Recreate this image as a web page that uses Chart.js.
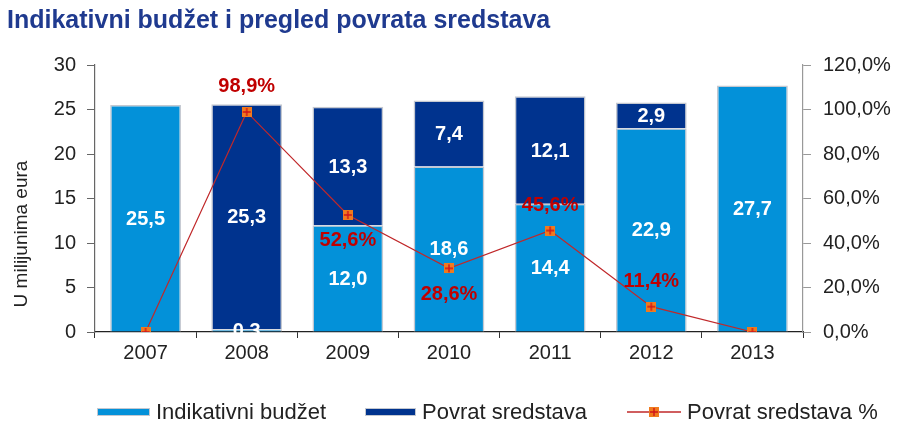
<!DOCTYPE html>
<html>
<head>
<meta charset="utf-8">
<script src="https://cdn.jsdelivr.net/npm/chart.js@4"></script>
<style>
  html, body { margin: 0; padding: 0; background: #fff; }
  #wrap { position: relative; width: 900px; height: 421px; }
</style>
</head>
<body>
<div id="wrap"><canvas id="c" width="900" height="421"></canvas></div>
<script>
// ---- data ----
const categories = ['2007', '2008', '2009', '2010', '2011', '2012', '2013'];
const indikativniBudzet = [25.5, 0.3, 12.0, 18.6, 14.4, 22.9, 27.7];
const povratSredstava = [0, 25.3, 13.3, 7.4, 12.1, 2.9, 0];
const povratPercent = [0, 98.9, 52.6, 28.6, 45.6, 11.4, 0];
const leftTicks = [0, 5, 10, 15, 20, 25, 30];
const rightTicks = [0, 20, 40, 60, 80, 100, 120];

const titleText = 'Indikativni budžet i pregled povrata sredstava';
const yTitleText = 'U milijunima eura';
const seriesNames = ['Indikativni budžet', 'Povrat sredstava', 'Povrat sredstava %'];

// ---- styles ----
const FONT = '"Liberation Sans", Arial, sans-serif';
const C_LIGHT = '#0391D9';
const C_DARK = '#00338E';
const C_LINE = '#C0282A';
const C_MARK = '#F07A1E';
const C_BORDER = '#C4C8D0';
const pctLabelAbove = [true, true, false, false, true, true, true];

function fmt(v) { return v.toFixed(1).replace('.', ','); }

// marker image
const marker = document.createElement('canvas');
marker.width = 10; marker.height = 10;
(function () {
  const m = marker.getContext('2d');
  m.fillStyle = C_MARK;
  m.fillRect(0, 0, 10, 10);
  m.strokeStyle = '#D0141A';
  m.lineWidth = 1.4;
  m.beginPath();
  m.moveTo(5, 1); m.lineTo(5, 9);
  m.moveTo(1, 5); m.lineTo(9, 5);
  m.stroke();
})();

const decorPlugin = {
  id: 'decor',
  afterDatasetsDraw(chart) {
    const ctx = chart.ctx;
    ctx.save();
    // bar labels
    ctx.textAlign = 'center';
    ctx.textBaseline = 'middle';
    ctx.font = 'bold 20px ' + FONT;
    ctx.fillStyle = '#FFFFFF';
    [0, 1].forEach(di => {
      const meta = chart.getDatasetMeta(di);
      const vals = chart.data.datasets[di].data;
      meta.data.forEach((el, j) => {
        if (!vals[j]) return;
        ctx.fillText(fmt(vals[j]), el.x, (el.y + el.base) / 2 + 1);
      });
    });
    // percent labels
    const lmeta = chart.getDatasetMeta(2);
    const lvals = chart.data.datasets[2].data;
    ctx.fillStyle = '#C00000';
    lmeta.data.forEach((el, j) => {
      if (!lvals[j]) return;
      const dy = pctLabelAbove[j] ? -25 : 26;
      ctx.fillText(fmt(lvals[j]) + '%', el.x, el.y + dy);
    });
    ctx.restore();
  },
  afterDraw(chart) {
    const ctx = chart.ctx;
    ctx.save();
    // title
    ctx.fillStyle = '#1F3A8F';
    ctx.font = 'bold 25px ' + FONT;
    ctx.textAlign = 'left';
    ctx.textBaseline = 'middle';
    ctx.fillText(titleText, 7, 21);
    // y title
    ctx.save();
    ctx.translate(22, 234);
    ctx.rotate(-Math.PI / 2);
    ctx.fillStyle = '#222';
    ctx.font = '19px ' + FONT;
    ctx.textAlign = 'center';
    ctx.fillText(yTitleText, 0, 0);
    ctx.restore();
    // legend
    const ly = 412;
    ctx.font = '22px ' + FONT;
    ctx.textBaseline = 'middle';
    ctx.textAlign = 'left';
    ctx.lineWidth = 1;
    ctx.strokeStyle = C_BORDER;
    ctx.fillStyle = C_LIGHT;
    ctx.fillRect(97, ly - 4, 53, 8);
    ctx.strokeRect(97.5, ly - 3.5, 52, 7);
    ctx.fillStyle = '#222';
    ctx.fillText(seriesNames[0], 156, ly + 1);
    ctx.fillStyle = C_DARK;
    ctx.fillRect(365, ly - 4, 51, 8);
    ctx.strokeRect(365.5, ly - 3.5, 50, 7);
    ctx.fillStyle = '#222';
    ctx.fillText(seriesNames[1], 422, ly + 1);
    ctx.strokeStyle = C_LINE;
    ctx.lineWidth = 1.5;
    ctx.beginPath();
    ctx.moveTo(627, ly); ctx.lineTo(681, ly);
    ctx.stroke();
    ctx.drawImage(marker, 654 - 5, ly - 5);
    ctx.fillText(seriesNames[2], 687, ly + 1);
    ctx.restore();
  }
};

new Chart(document.getElementById('c'), {
  data: {
    labels: categories,
    datasets: [
      {
        type: 'bar', label: seriesNames[0], data: indikativniBudzet,
        backgroundColor: C_LIGHT, borderColor: C_BORDER, borderWidth: 1.5,
        yAxisID: 'y', order: 1, barPercentage: 0.7, categoryPercentage: 1.0
      },
      {
        type: 'bar', label: seriesNames[1], data: povratSredstava,
        backgroundColor: C_DARK, borderColor: C_BORDER, borderWidth: 1.5,
        yAxisID: 'y', order: 2, barPercentage: 0.7, categoryPercentage: 1.0
      },
      {
        type: 'line', label: seriesNames[2], data: povratPercent,
        borderColor: C_LINE, borderWidth: 1.2, pointStyle: marker,
        pointRadius: 5, yAxisID: 'y1', order: 0, tension: 0, fill: false
      }
    ]
  },
  options: {
    responsive: false,
    animation: false,
    devicePixelRatio: 1,
    layout: { padding: { top: 65, bottom: 49, left: 0, right: 0 } },
    plugins: { legend: { display: false }, title: { display: false }, tooltip: { enabled: false } },
    scales: {
      x: {
        stacked: true,
        offset: true,
        grid: { display: true, drawOnChartArea: false, drawTicks: true, tickLength: 6, offset: true, color: '#333' },
        border: { display: true, color: '#222', width: 1.2 },
        ticks: { color: '#222', font: { family: FONT, size: 20 }, padding: 3, maxRotation: 0 },
        afterFit(s) { s.height = 40; }
      },
      y: {
        stacked: true, position: 'left', min: 0, max: 30,
        afterBuildTicks(s) { s.ticks = leftTicks.map(v => ({ value: v })); },
        grid: { drawOnChartArea: false, drawTicks: true, tickLength: 8, color: '#666' },
        border: { display: true, color: '#666', width: 1.2 },
        ticks: { color: '#222', font: { family: FONT, size: 20 }, padding: 11 },
        afterFit(s) { s.width = 95; }
      },
      y1: {
        position: 'right', min: 0, max: 120,
        afterBuildTicks(s) { s.ticks = rightTicks.map(v => ({ value: v })); },
        grid: { drawOnChartArea: false, drawTicks: true, tickLength: 8, color: '#999' },
        border: { display: true, color: '#999', width: 1.2 },
        ticks: { color: '#222', font: { family: FONT, size: 20 }, padding: 12,
          callback: v => fmt(v) + '%' },
        afterFit(s) { s.width = 97; }
      }
    }
  },
  plugins: [decorPlugin]
});
</script>
</body>
</html>
